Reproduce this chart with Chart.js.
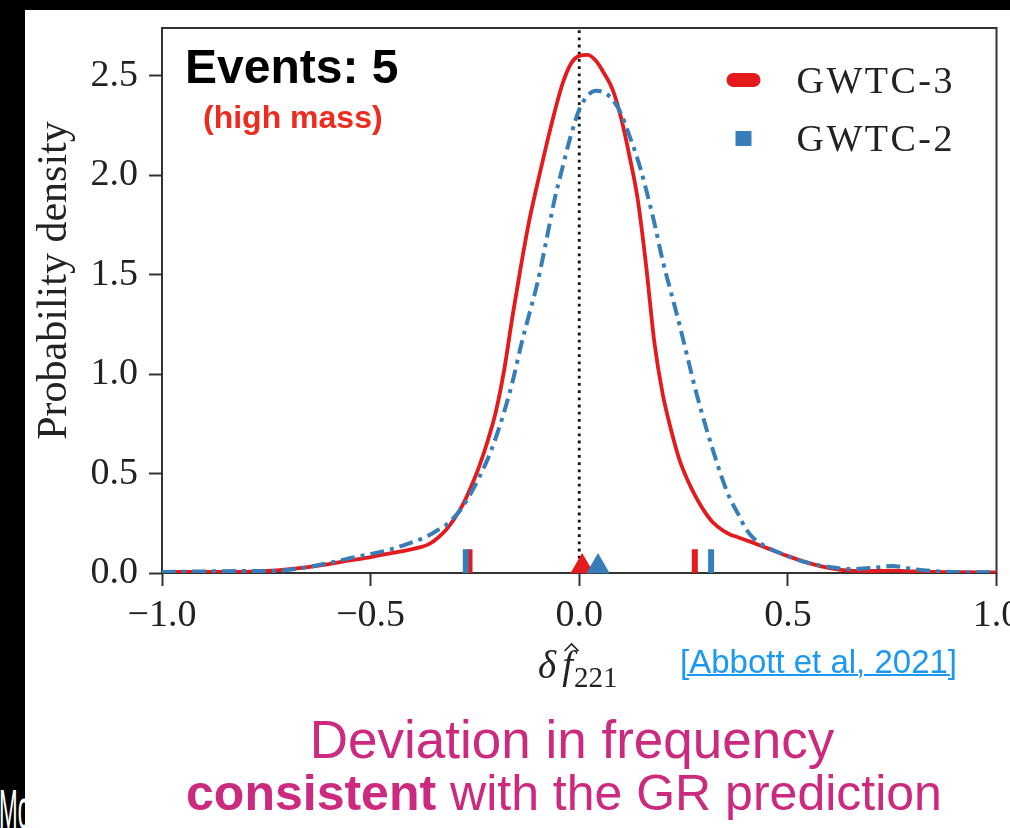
<!DOCTYPE html>
<html>
<head>
<meta charset="utf-8">
<title>delta f221 posterior</title>
<script src="https://cdn.jsdelivr.net/npm/chart.js@4.4.1/dist/chart.umd.min.js"></script>
<style>
  html, body { margin: 0; padding: 0; background: #000; }
  body { width: 1010px; height: 828px; position: relative; overflow: hidden; }
  #side { position: absolute; left: -1px; top: 776px; color: #fff; font: 56px "Liberation Sans", sans-serif; transform: scaleX(0.4); transform-origin: left top; }
  #panel { position: absolute; left: 25px; top: 10px; width: 985px; height: 818px; background: #fff; }
  #panel canvas { position: absolute; left: 0; top: 0; }
  .note { position: absolute; white-space: nowrap; font-family: "Liberation Sans", Arial, sans-serif; line-height: 1; }
  #events { left: 160px; top: 33px; font-size: 48px; font-weight: bold; color: #000; }
  #mass { left: 178px; top: 91px; font-size: 32px; font-weight: bold; color: #ee2b1f; }
  #cite { left: 655px; top: 635px; font-size: 33px; color: #1a98f2; text-decoration: underline; text-decoration-thickness: 2px; }
  .caption { left: 0; width: 1100px; text-align: center; color: #cb2a7f; }
  #cap1 { top: 703px; margin-left: -3px; font-size: 53px; }
  #cap2 { top: 758px; margin-left: -11px; font-size: 50px; }
</style>
</head>
<body>
<div id="side">Mo</div>
<div id="panel">
  <canvas id="myChart" width="985" height="818"></canvas>
  <div class="note" id="events">Events: 5</div>
  <div class="note" id="mass">(high mass)</div>
  <div class="note" id="cite">[Abbott et al, 2021]</div>
  <div class="note caption" id="cap1">Deviation in frequency</div>
  <div class="note caption" id="cap2"><b>consistent</b> with the GR prediction</div>
</div>
<script>
// delta f_221 grid and the two posterior densities
const deltaF = [
  -1.0, -0.9, -0.8, -0.75, -0.7, -0.65, -0.6, -0.55, -0.5, -0.45, -0.4,
  -0.38, -0.36, -0.34, -0.32, -0.3, -0.28, -0.26, -0.24, -0.22, -0.2,
  -0.18, -0.16, -0.14, -0.12, -0.1, -0.08, -0.06, -0.04, -0.02, 0.0,
  0.02, 0.04, 0.06, 0.08, 0.1, 0.12, 0.14, 0.16, 0.18, 0.2,
  0.22, 0.24, 0.26, 0.28, 0.3, 0.32, 0.34, 0.36, 0.38, 0.4, 0.42,
  0.45, 0.5, 0.55, 0.6, 0.65, 0.7, 0.75, 0.8, 0.85, 0.9, 1.0
];
const gwtc3Density = [
  0.005, 0.005, 0.006, 0.01, 0.018, 0.03, 0.045, 0.063, 0.08, 0.10, 0.12,
  0.13, 0.145, 0.175, 0.215, 0.27, 0.34, 0.43, 0.535, 0.66, 0.81,
  1.02, 1.29, 1.54, 1.77, 1.96, 2.14, 2.31, 2.46, 2.56, 2.60,
  2.605, 2.575, 2.51, 2.43, 2.29, 2.10, 1.88, 1.55, 1.16, 0.90,
  0.72, 0.57, 0.465, 0.38, 0.31, 0.255, 0.22, 0.195, 0.18, 0.165, 0.15,
  0.125, 0.085, 0.05, 0.025, 0.012, 0.01, 0.012, 0.008, 0.005, 0.004, 0.003
];
const gwtc2Density = [
  0.005, 0.008, 0.01, 0.01, 0.015, 0.03, 0.05, 0.075, 0.095, 0.12, 0.155,
  0.17, 0.19, 0.215, 0.24, 0.28, 0.33, 0.40, 0.48, 0.57, 0.68,
  0.81, 0.96, 1.14, 1.30, 1.46, 1.66, 1.87, 2.04, 2.20, 2.33,
  2.40, 2.425, 2.415, 2.38, 2.31, 2.20, 2.08, 1.93, 1.76, 1.57,
  1.41, 1.25, 1.08, 0.91, 0.76, 0.62, 0.49, 0.38, 0.30, 0.22, 0.17,
  0.13, 0.085, 0.05, 0.03, 0.02, 0.025, 0.035, 0.02, 0.01, 0.005, 0.003
];
// 90% credible bounds and medians
const gwtc3Bounds = [-0.263, 0.277];
const gwtc2Bounds = [-0.272, 0.316];
const gwtc3Median = 0.007;
const gwtc2Median = 0.045;
const seriesNames = ['GWTC-3', 'GWTC-2'];
const xTicks = [-1.0, -0.5, 0.0, 0.5, 1.0];
const yTicks = [0.0, 0.5, 1.0, 1.5, 2.0, 2.5];

const RED = '#e41a1c';
const BLUE = '#377eb8';
const SERIF = '"Liberation Serif", "DejaVu Serif", serif';
const yMax = 2.74;
const rugHeight = 0.12;
const medianLift = 0.033;

function rug(bounds) {
  const pts = [];
  bounds.forEach(b => {
    pts.push({ x: b, y: 0 }, { x: b, y: rugHeight }, { x: b, y: null });
  });
  return pts;
}

const fmt = v => (v < 0 ? '\u2212' : '') + Math.abs(v).toFixed(1);

// keep the plot box where the layout puts it, no room for edge labels
const noEdgePad = s => {
  s.paddingLeft = 0; s.paddingRight = 0; s.paddingTop = 0; s.paddingBottom = 0;
};

// full box around the plot
const frameBox = {
  id: 'frameBox',
  beforeDatasetsDraw(chart) {
    const { ctx, chartArea: a } = chart;
    ctx.save();
    ctx.strokeStyle = '#333';
    ctx.lineWidth = 2;
    ctx.strokeRect(a.left, a.top, a.right - a.left, a.bottom - a.top);
    ctx.restore();
  }
};

// axis labels: plain y label, math-style x label
const axisTitles = {
  id: 'axisTitles',
  afterDraw(chart) {
    const { ctx, chartArea: a } = chart;
    ctx.save();
    ctx.fillStyle = '#222';
    ctx.font = '42px ' + SERIF;
    ctx.textAlign = 'center';
    ctx.textBaseline = 'middle';
    ctx.translate(30, (a.top + a.bottom) / 2 - 20);
    ctx.rotate(-Math.PI / 2);
    ctx.fillText('Probability density', 0, 0);
    ctx.restore();

    ctx.save();
    ctx.fillStyle = '#222';
    ctx.textBaseline = 'alphabetic';
    const base = 668;
    ctx.font = 'italic 39px ' + SERIF;
    const wd = ctx.measureText('\u03b4').width;
    const wf = ctx.measureText('f').width;
    ctx.font = '29px ' + SERIF;
    const ws = ctx.measureText('221').width;
    let x = (a.left + a.right) / 2 - (wd + 6 + wf + ws) / 2 - 2;
    ctx.font = 'italic 39px ' + SERIF;
    ctx.fillText('\u03b4', x, base);
    x += wd + 6;
    ctx.fillText('f', x, base);
    // hat over the f
    const hx = x + wf / 2 + 4, hy = base - 32;
    ctx.strokeStyle = '#222';
    ctx.lineWidth = 1.6;
    ctx.beginPath();
    ctx.moveTo(hx - 7, hy + 5);
    ctx.lineTo(hx, hy - 2);
    ctx.lineTo(hx + 7, hy + 5);
    ctx.stroke();
    ctx.font = '29px ' + SERIF;
    ctx.fillText('221', x + wf + 1, base + 9);
    ctx.restore();
  }
};

// legend in the upper right corner of the plot
const cornerLegend = {
  id: 'cornerLegend',
  afterDraw(chart) {
    const { ctx, chartArea: a } = chart;
    const sets = chart.data.datasets.filter(d => seriesNames.includes(d.label));
    ctx.save();
    ctx.font = '38px ' + SERIF;
    ctx.letterSpacing = '2.5px';
    ctx.textBaseline = 'alphabetic';
    sets.forEach((d, i) => {
      const cy = a.top + 52 + i * 58;
      const mx = a.right - 253;
      ctx.fillStyle = d.borderColor;
      ctx.beginPath();
      if (i === 0) {
        ctx.roundRect(mx - 17, cy - 7, 34, 14, 7);
      } else {
        ctx.rect(mx - 8, cy - 7, 16, 15);
      }
      ctx.fill();
      ctx.fillStyle = '#222';
      ctx.fillText(d.label, a.right - 200, cy + 13);
    });
    ctx.restore();
  }
};

const ctx1 = document.getElementById('myChart').getContext('2d');
new Chart(ctx1, {
  type: 'line',
  data: {
    datasets: [
      {
        data: [{ x: 0, y: 0 }, { x: 0, y: yMax }],
        borderColor: '#111',
        borderWidth: 2.8,
        borderDash: [2.8, 4.4],
        pointRadius: 0,
        order: 6
      },
      {
        label: seriesNames[0],
        data: deltaF.map((x, i) => ({ x, y: gwtc3Density[i] })),
        borderColor: RED,
        borderWidth: 3.8,
        pointRadius: 0,
        cubicInterpolationMode: 'monotone',
        order: 5
      },
      {
        label: seriesNames[1],
        data: deltaF.map((x, i) => ({ x, y: gwtc2Density[i] })),
        borderColor: BLUE,
        borderWidth: 4,
        borderDash: [14, 6, 4, 6],
        pointRadius: 0,
        cubicInterpolationMode: 'monotone',
        order: 4
      },
      {
        data: rug(gwtc3Bounds),
        borderColor: RED,
        borderWidth: 6,
        borderCapStyle: 'butt',
        pointRadius: 0,
        spanGaps: false,
        order: 3
      },
      {
        data: rug(gwtc2Bounds),
        borderColor: BLUE,
        borderWidth: 6,
        borderCapStyle: 'butt',
        pointRadius: 0,
        spanGaps: false,
        order: 2
      },
      {
        data: [{ x: gwtc3Median, y: medianLift }],
        showLine: false,
        pointStyle: 'triangle',
        pointRadius: 13.5,
        backgroundColor: RED,
        borderWidth: 0,
        clip: false,
        order: 1
      },
      {
        data: [{ x: gwtc2Median, y: medianLift }],
        showLine: false,
        pointStyle: 'triangle',
        pointRadius: 13.5,
        backgroundColor: BLUE,
        borderWidth: 0,
        clip: false,
        order: 0
      }
    ]
  },
  options: {
    responsive: false,
    animation: false,
    layout: { padding: { left: 0, top: 18, right: 10, bottom: 0 } },
    plugins: { legend: { display: false }, tooltip: { enabled: false } },
    scales: {
      x: {
        type: 'linear',
        min: -1,
        max: 1,
        afterBuildTicks: s => { s.ticks = xTicks.map(v => ({ value: v })); },
        afterFit: s => { s.height = 255; noEdgePad(s); },
        border: { display: false },
        grid: { drawOnChartArea: false, drawTicks: true, tickLength: 13, tickWidth: 2, tickColor: '#333' },
        ticks: { callback: fmt, color: '#222', padding: 7, maxRotation: 0, font: { family: SERIF, size: 38 } }
      },
      y: {
        min: 0,
        max: yMax,
        afterBuildTicks: s => { s.ticks = yTicks.map(v => ({ value: v })); },
        afterFit: s => { s.width = 137; noEdgePad(s); },
        border: { display: false },
        grid: { drawOnChartArea: false, drawTicks: true, tickLength: 13, tickWidth: 2, tickColor: '#333' },
        ticks: { callback: fmt, color: '#222', padding: 11, font: { family: SERIF, size: 38 } }
      }
    }
  },
  plugins: [frameBox, axisTitles, cornerLegend]
});
</script>
</body>
</html>
